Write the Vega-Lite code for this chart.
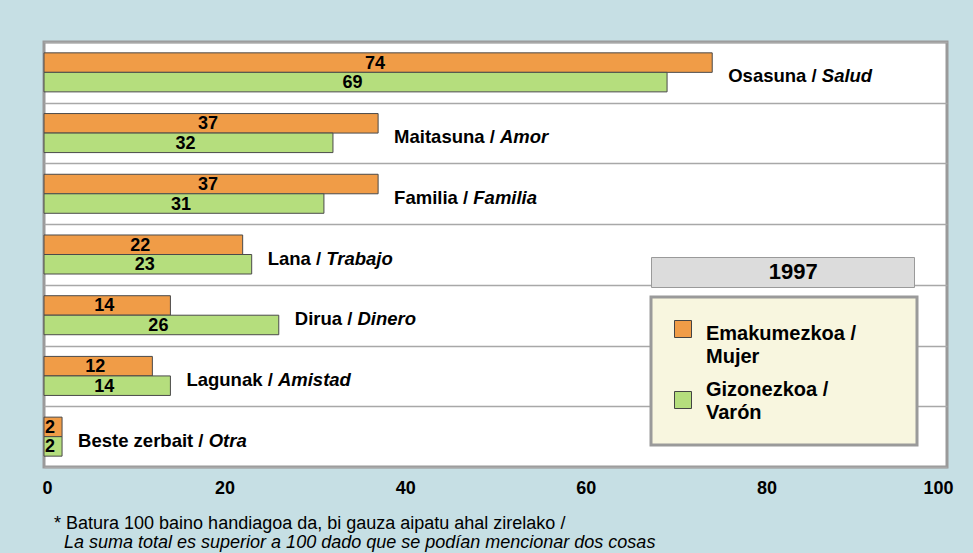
{
  "$schema": "https://vega.github.io/schema/vega-lite/v6.json",
  "width": 903,
  "height": 425,
  "autosize": "none",
  "padding": {"left": 44, "top": 42, "right": 26, "bottom": 86},
  "background": "#c6dfe4",
  "view": {"fill": "white", "stroke": "#9a9a9a", "strokeWidth": 3},
  "config": {"font": "Liberation Sans"},
  "title": {
    "text": "* Batura 100 baino handiagoa da, bi gauza aipatu ahal zirelako /",
    "subtitle": "\u200b\u00a0\u00a0La suma total es superior a 100 dado que se podían mencionar dos cosas",
    "orient": "bottom",
    "anchor": "start",
    "frame": "group",
    "dx": 10,
    "offset": 18,
    "fontSize": 18,
    "fontWeight": "normal",
    "color": "black",
    "subtitleFontSize": 18,
    "subtitleFontStyle": "italic",
    "subtitleColor": "black",
    "subtitlePadding": 1
  },
  "data": {
    "values": [
      {"cat": "Osasuna", "it": "Salud", "sex": "Emakumezkoa", "value": 74},
      {"cat": "Osasuna", "it": "Salud", "sex": "Gizonezkoa", "value": 69},
      {"cat": "Maitasuna", "it": "Amor", "sex": "Emakumezkoa", "value": 37},
      {"cat": "Maitasuna", "it": "Amor", "sex": "Gizonezkoa", "value": 32},
      {"cat": "Familia", "it": "Familia", "sex": "Emakumezkoa", "value": 37},
      {"cat": "Familia", "it": "Familia", "sex": "Gizonezkoa", "value": 31},
      {"cat": "Lana", "it": "Trabajo", "sex": "Emakumezkoa", "value": 22},
      {"cat": "Lana", "it": "Trabajo", "sex": "Gizonezkoa", "value": 23},
      {"cat": "Dirua", "it": "Dinero", "sex": "Emakumezkoa", "value": 14},
      {"cat": "Dirua", "it": "Dinero", "sex": "Gizonezkoa", "value": 26},
      {"cat": "Lagunak", "it": "Amistad", "sex": "Emakumezkoa", "value": 12},
      {"cat": "Lagunak", "it": "Amistad", "sex": "Gizonezkoa", "value": 14},
      {"cat": "Beste zerbait", "it": "Otra", "sex": "Emakumezkoa", "value": 2},
      {"cat": "Beste zerbait", "it": "Otra", "sex": "Gizonezkoa", "value": 2}
    ]
  },
  "encoding": {
    "y": {
      "field": "cat",
      "type": "nominal",
      "sort": null,
      "scale": {"paddingInner": 0, "paddingOuter": 0},
      "axis": {
        "title": null,
        "labels": false,
        "ticks": false,
        "domain": false,
        "grid": true,
        "tickBand": "extent",
        "gridColor": "#a8a8a8",
        "gridWidth": 1.5
      }
    }
  },
  "layer": [
    {
      "mark": {"type": "bar", "stroke": "#4a4a4a", "strokeWidth": 1},
      "encoding": {
        "x": {
          "field": "value",
          "type": "quantitative",
          "scale": {"domain": [0, 100], "nice": false},
          "axis": {
            "values": [0, 20, 40, 60, 80, 100],
            "title": null,
            "grid": false,
            "ticks": false,
            "domain": false,
            "labelFontSize": 18,
            "labelFontWeight": "bold",
            "labelColor": "black",
            "labelPadding": 12,
            "labelFlush": false,
            "labelOffset": {"condition": [{"test": "datum.value == 100", "value": -9}, {"test": "datum.value == 0", "value": 3}], "value": 0}
          }
        },
        "yOffset": {
          "field": "sex",
          "type": "nominal",
          "scale": {"paddingInner": 0, "paddingOuter": 0.556}
        },
        "color": {
          "field": "sex",
          "type": "nominal",
          "scale": {"domain": ["Emakumezkoa", "Gizonezkoa"], "range": ["#f09c47", "#b5de7d"]},
          "legend": {
            "title": null,
            "orient": "none",
            "legendX": 607,
            "legendY": 255,
            "fillColor": "#f8f6df",
            "strokeColor": "#9a9a9a",
            "padding": 22,
            "symbolType": "square",
            "symbolSize": 289,
            "symbolStrokeColor": "#444444",
            "symbolStrokeWidth": 1,
            "labelFontSize": 20,
            "labelFontWeight": "bold",
            "labelColor": "black",
            "labelOffset": 13,
            "labelLimit": 400,
            "rowPadding": 13,
            "labelBaseline": "middle",
            "labelExpr": "datum.label == 'Emakumezkoa' ? ['Emakumezkoa /\u00a0\u00a0\u00a0\u00a0\u00a0\u00a0\u00a0\u200b', 'Mujer'] : ['Gizonezkoa /', 'Varón']",
            "encode": {
              "legend": {"update": {"strokeWidth": {"value": 3}}},
              "labels": {"update": {"dy": {"signal": "datum.value == 'Gizonezkoa' ? -10 : 5"}, "lineHeight": {"value": 23}}}
            }
          }
        }
      }
    },
    {
      "transform": [{"calculate": "datum.value / 2", "as": "mid"}],
      "mark": {"type": "text", "fontSize": 18, "fontWeight": "bold", "color": "black", "dx": -3, "dy": 1},
      "encoding": {
        "x": {"field": "mid", "type": "quantitative"},
        "yOffset": {"field": "sex", "type": "nominal"},
        "text": {"field": "value", "type": "quantitative"}
      }
    },
    {
      "transform": [
        {"joinaggregate": [{"op": "max", "field": "value", "as": "mx"}], "groupby": ["cat"]},
        {"filter": "datum.sex == 'Emakumezkoa'"},
        {"calculate": "datum.cat + ' /'", "as": "bold"}
      ],
      "mark": {"type": "text", "align": "left", "fontSize": 18.5, "fontWeight": "bold", "color": "black", "dx": 16, "dy": 4},
      "encoding": {
        "x": {"field": "mx", "type": "quantitative"},
        "text": {"field": "bold", "type": "nominal"}
      }
    },
    {
      "transform": [
        {"joinaggregate": [{"op": "max", "field": "value", "as": "mx"}], "groupby": ["cat"]},
        {"filter": "datum.sex == 'Emakumezkoa'"},
        {"calculate": "datum.cat + ' / '", "as": "b"},
        {"calculate": "length(replace(datum.b, regexp('[^ilj /]', 'g'), '')) * 0.278 + length(replace(datum.b, regexp('[^tf]', 'g'), '')) * 0.333 + length(replace(datum.b, regexp('[^r]', 'g'), '')) * 0.389 + length(replace(datum.b, regexp('[^z]', 'g'), '')) * 0.5 + length(replace(datum.b, regexp('[^asekc]', 'g'), '')) * 0.556 + length(replace(datum.b, regexp('[^ungbdopqLF]', 'g'), '')) * 0.611 + length(replace(datum.b, regexp('[^BD]', 'g'), '')) * 0.722 + length(replace(datum.b, regexp('[^O]', 'g'), '')) * 0.778 + length(replace(datum.b, regexp('[^M]', 'g'), '')) * 0.833 + length(replace(datum.b, regexp('[^m]', 'g'), '')) * 0.889", "as": "wem"},
        {"calculate": "datum.mx + datum.wem * 18.5 / 9.03", "as": "xi"}
      ],
      "mark": {"type": "text", "align": "left", "fontSize": 18.5, "fontWeight": "bold", "fontStyle": "italic", "color": "black", "dx": 16, "dy": 4},
      "encoding": {
        "x": {"field": "xi", "type": "quantitative"},
        "text": {"field": "it", "type": "nominal"}
      }
    },
    {
      "mark": {"type": "point", "opacity": 0},
      "encoding": {
        "x": {"field": "value", "type": "quantitative"},
        "shape": {
          "datum": "1997",
          "legend": {
            "title": null,
            "orient": "none",
            "legendX": 607,
            "legendY": 215,
            "fillColor": "#dcdcdc",
            "strokeColor": "#9a9a9a",
            "padding": 4,
            "symbolSize": 0,
            "symbolOpacity": 0,
            "symbolStrokeWidth": 0,
            "labelOffset": 0,
            "labelFontSize": 22,
            "labelFontWeight": "bold",
            "labelColor": "black",
            "labelLimit": 400,
            "labelExpr": "'\u200b' + pad('1997', 34, '\u00a0', 'center') + '\u200b'",
            "encode": {"legend": {"update": {"strokeWidth": {"value": 3}}}}
          }
        }
      }
    }
  ]
}
